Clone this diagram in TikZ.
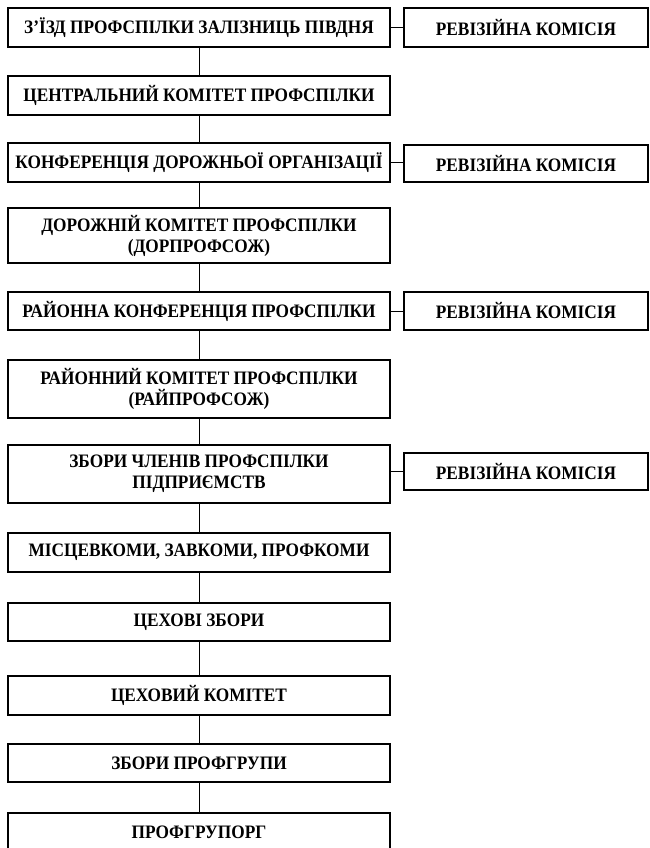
\documentclass[tikz,border=0pt]{standalone}
\usepackage{fontspec}
\setmainfont{Liberation Serif}[FakeStretch=0.91]
\begin{document}
\begin{tikzpicture}[x=1pt,y=-1pt,
  lbox/.style={draw,line width=1.3pt,rectangle,minimum width=382pt,inner sep=0pt,align=center,font=\fontsize{19}{21}\selectfont\bfseries},
  rbox/.style={draw,line width=1.3pt,rectangle,minimum width=244pt,inner sep=0pt,align=center,font=\fontsize{19}{21}\selectfont\bfseries},
  link/.style={line width=1pt}]
\useasboundingbox (0,0) rectangle (649,848);
\node[lbox,minimum height=39pt] (b1) at (199,27.5) {З’ЇЗД ПРОФСПІЛКИ ЗАЛІЗНИЦЬ ПІВДНЯ};
\node[lbox,minimum height=39pt] (b2) at (199,95.5) {ЦЕНТРАЛЬНИЙ КОМІТЕТ ПРОФСПІЛКИ};
\node[lbox,minimum height=39pt] (b3) at (199,162.5) {КОНФЕРЕНЦІЯ ДОРОЖНЬОЇ ОРГАНІЗАЦІЇ};
\node[lbox,minimum height=55pt] (b4) at (199,235.5) {ДОРОЖНІЙ КОМІТЕТ ПРОФСПІЛКИ\\(ДОРПРОФСОЖ)};
\node[lbox,minimum height=38pt] (b5) at (199,311) {РАЙОННА КОНФЕРЕНЦІЯ ПРОФСПІЛКИ};
\node[lbox,minimum height=58pt] (b6) at (199,389) {РАЙОННИЙ КОМІТЕТ ПРОФСПІЛКИ\\(РАЙПРОФСОЖ)};
\node[lbox,minimum height=58pt] (b7) at (199,474) {ЗБОРИ ЧЛЕНІВ ПРОФСПІЛКИ\\ПІДПРИЄМСТВ};
\node[lbox,minimum height=39pt] (b8) at (199,552.5) {МІСЦЕВКОМИ, ЗАВКОМИ, ПРОФКОМИ};
\node[lbox,minimum height=38pt] (b9) at (199,622) {ЦЕХОВІ ЗБОРИ};
\node[lbox,minimum height=39pt] (b10) at (199,695.5) {ЦЕХОВИЙ КОМІТЕТ};
\node[lbox,minimum height=38pt] (b11) at (199,763) {ЗБОРИ ПРОФГРУПИ};
\node[lbox,minimum height=38pt] (b12) at (199,832) {ПРОФГРУПОРГ};
\node[rbox,minimum height=39pt] (r1) at (526,27.5) {РЕВІЗІЙНА КОМІСІЯ};
\node[rbox,minimum height=37pt] (r3) at (526,163.5) {РЕВІЗІЙНА КОМІСІЯ};
\node[rbox,minimum height=38pt] (r5) at (526,311) {РЕВІЗІЙНА КОМІСІЯ};
\node[rbox,minimum height=37pt] (r7) at (526,471.5) {РЕВІЗІЙНА КОМІСІЯ};
\foreach \a/\b in {b1/b2,b2/b3,b3/b4,b4/b5,b5/b6,b6/b7,b7/b8,b8/b9,b9/b10,b10/b11,b11/b12}
  \draw[link] (\a.south) -- (\b.north);
\draw[link] (b1.east) -- (r1.west);
\draw[link] (b3.east) -- (b3.east -| r3.west);
\draw[link] (b5.east) -- (r5.west);
\draw[link] (b7.east |- r7.west) -- (r7.west);
\end{tikzpicture}
\end{document}
